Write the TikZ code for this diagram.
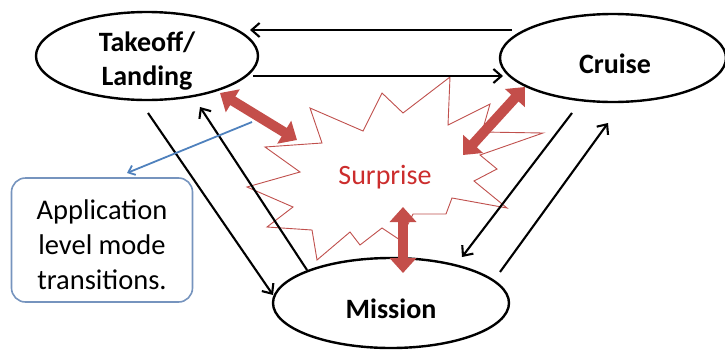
\documentclass[tikz,border=0pt]{standalone}
\usepackage{fontspec}
\setmainfont{Carlito}
\usetikzlibrary{arrows.meta,shapes.geometric}
\definecolor{burstred}{RGB}{192,80,77}
\definecolor{arrowred}{RGB}{196,78,74}
\definecolor{surprisered}{RGB}{204,45,45}
\definecolor{bluearrow}{RGB}{79,129,189}
\definecolor{boxblue}{RGB}{118,148,190}
\tikzset{
  mode/.style={draw, ellipse, line width=2.4pt, fill=white, inner sep=0pt},
  modetext/.style={font=\fontsize{28}{34}\selectfont\bfseries, align=center, inner sep=0pt},
  trans/.style={line width=2.1pt, -{Straight Barb[length=8pt,width=14pt]}},
  surge/.style={line width=10pt, arrowred,
    {Triangle[length=15pt,width=26pt]}-{Triangle[length=15pt,width=26pt]}},
  burst/.style={draw=burstred, line width=0.9pt, fill=white, line join=miter},
  notebox/.style={draw=boxblue, line width=1.6pt, rounded corners=14pt,
    minimum width=181pt, minimum height=124pt},
  notetext/.style={align=center, font=\fontsize{28.5}{35}\selectfont, inner sep=0pt},
  noteline/.style={bluearrow, line width=1.8pt, -{Straight Barb[length=6pt,width=10pt]}}
}
\begin{document}
\begin{tikzpicture}[x=1pt,y=-1pt]
\useasboundingbox (0,0) rectangle (725,351);
% surprise burst
\draw[burst] (310,108) -- (363,131) -- (382,93) -- (403,113) -- (450,77) -- (448,125)
  -- (490,104) -- (482,132) -- (543,133) -- (480,155) -- (497,169) -- (474,181)
  -- (507,208) -- (452,198) -- (446,214) -- (413,214) -- (400,240) -- (382,228)
  -- (360,245) -- (350,232) -- (317,260) -- (312,230) -- (267,227) -- (293,207)
  -- (247,187) -- (300,172) -- (265,147) -- (322,143) -- cycle;
\node[text=surprisered, font=\fontsize{28}{30}\selectfont] (S) at (385,177) {Surprise};
% modes
\node[mode, minimum width=222pt, minimum height=88pt] (TL) at (147,56) {};
\node[modetext] (TLt) at (147,61) {Takeoff/\\Landing};
\node[mode, minimum width=226pt, minimum height=88pt] (CR) at (613,58) {};
\node[modetext] (CRt) at (615,64) {Cruise};
\node[mode, minimum width=236pt, minimum height=90pt] (MI) at (391,303) {};
\node[modetext] (MIt) at (391,309) {Mission};
% note box
\node[notebox] (NB) at (102,240) {};
\node[notetext] (NBt) at (102,245) {Application\\level mode\\transitions.};
% endpoints
\coordinate (c1) at (512,30);  \coordinate (t1) at (250,30);
\coordinate (t2) at (253,76);  \coordinate (c2) at (503,76);
\coordinate (t3) at (148,113); \coordinate (m1) at (273,295);
\coordinate (m2) at (307,270); \coordinate (t4) at (200,107);
\coordinate (c3) at (572,113); \coordinate (m3) at (462,257);
\coordinate (m4) at (500,272); \coordinate (c4) at (608,123);
\coordinate (r1a) at (220,93); \coordinate (r1b) at (297,140);
\coordinate (r2a) at (525,87); \coordinate (r2b) at (463,155);
\coordinate (r3a) at (403,207); \coordinate (r3b) at (403,273);
\coordinate (b1) at (252,122); \coordinate (b2) at (127,173);
% transitions
\draw[trans] (c1) -- (t1);
\draw[trans] (t2) -- (c2);
\draw[trans] (t3) -- (m1);
\draw[trans] (m2) -- (t4);
\draw[trans] (c3) -- (m3);
\draw[trans] (m4) -- (c4);
% note connector
\draw[noteline] (b1) -- (b2);
% surprise arrows
\draw[surge] (r1a) -- (r1b);
\draw[surge] (r2a) -- (r2b);
\draw[surge] (r3a) -- (r3b);
\end{tikzpicture}
\end{document}
